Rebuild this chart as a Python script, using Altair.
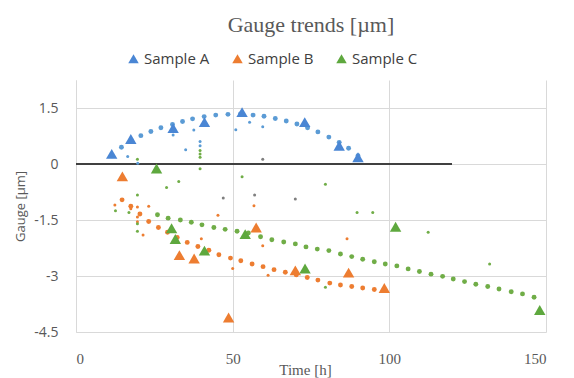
import altair as alt
import pandas as pd

# Triangles (main samples)
a_x = [11.4, 17.5, 31.0, 41.0, 53.0, 73.0, 84.0, 90.0]
a_y = [0.27, 0.67, 0.96, 1.12, 1.39, 1.12, 0.49, 0.18]
b_x = [14.8, 33.0, 37.7, 48.7, 57.5, 70.0, 87.0, 98.4]
b_y = [-0.33, -2.44, -2.53, -4.11, -1.70, -2.85, -2.91, -3.32]
c_x = [25.7, 30.5, 31.7, 41.0, 54.0, 73.1, 102.0, 148.0]
c_y = [-0.12, -1.72, -2.01, -2.32, -1.88, -2.80, -1.68, -3.91]

# Dotted trend lines
ta_x = [11.5, 14.5, 17.6, 20.7, 23.9, 27.1, 30.8, 34, 37.2, 40.9, 44.6, 48.5, 52.5, 56.5, 60, 63.6, 67.1, 70.5, 73.9, 77.2, 80.7, 84, 87, 90]
ta_y = [0.22, 0.45, 0.64, 0.76, 0.87, 0.97, 1.06, 1.14, 1.21, 1.27, 1.31, 1.33, 1.34, 1.31, 1.28, 1.22, 1.15, 1.07, 0.97, 0.86, 0.72, 0.58, 0.42, 0.22]
tb_x = [14.7, 17.5, 20.4, 23.2, 26.3, 29.2, 32.3, 35.5, 38.9, 42.4, 45.6, 49.3, 52.6, 56.2, 59.7, 63.2, 66.8, 70.3, 73.8, 77.2, 81, 84.4, 88, 91.5, 95.2, 98.4]
tb_y = [-0.96, -1.13, -1.34, -1.54, -1.70, -1.83, -1.97, -2.10, -2.21, -2.31, -2.43, -2.52, -2.59, -2.68, -2.75, -2.83, -2.90, -2.97, -3.04, -3.11, -3.19, -3.24, -3.28, -3.32, -3.36, -3.38]
tc_x = [26, 29.4, 33.3, 36.8, 40.2, 44, 47.6, 51.4, 55, 58.9, 62.5, 66.3, 70, 73.4, 77, 80.7, 84.4, 88, 91.5, 95.2, 98.7, 102.4, 106, 109.6, 113.3, 117, 120.4, 124, 127.6, 131.4, 135, 138.9, 142.5, 146.2]
tc_y = [-1.36, -1.45, -1.50, -1.56, -1.63, -1.70, -1.75, -1.80, -1.85, -1.95, -2.03, -2.09, -2.14, -2.22, -2.28, -2.32, -2.41, -2.48, -2.55, -2.62, -2.68, -2.73, -2.81, -2.88, -2.95, -3.01, -3.08, -3.15, -3.22, -3.28, -3.35, -3.42, -3.48, -3.57]

# Small scattered measurement dots
sa_x = [16.5, 19.7, 31, 35, 37.6, 51, 55.4, 59.6, 39.6, 39.6]
sa_y = [0.2, 0.02, 0.78, 0.38, 0.91, 0.92, 1.12, 1.0, 0.60, 0.49]
sc_x = [19.6, 39.6, 39.6, 39.6, 39.6, 32.8, 28.9, 53, 19.6, 12.6, 16.9, 19.6, 19.6, 79.6, 89.7, 94.7, 112.4, 132, 79.6]
sc_y = [0.13, 0.36, 0.27, 0.18, -0.13, -0.47, -0.63, -0.34, -0.83, -1.25, -1.30, -1.6, -1.8, -0.54, -1.30, -1.30, -1.83, -2.68, -3.3]
sb_x = [12.4, 17.5, 19.6, 23.2, 45.3, 56.8, 19.6, 21.4, 40, 59.6, 50, 61.3, 86.5, 19.6]
sb_y = [-1.1, -1.2, -1.15, -1.13, -1.37, -1.12, -1.55, -1.9, -2.0, -2.19, -2.8, -2.98, -2.0, -1.42]
sg_x = [59.6, 47, 57, 70]
sg_y = [0.13, -0.91, -0.83, -0.94]

zero_x = [0, 120]
zero_y = [0, 0]

series = ["Sample A", "Sample B", "Sample C"]
colors = ["#4a86d4", "#ed7d31", "#5ea83e"]
trend_colors = ["#5b9bd5", "#ed7d31", "#70ad47"]
small_colors = ["#5b9bd5", "#ed7d31", "#70ad47", "#7f7f7f"]

tri = pd.DataFrame({
    "x": a_x + b_x + c_x,
    "y": a_y + b_y + c_y,
    "s": [series[0]] * len(a_x) + [series[1]] * len(b_x) + [series[2]] * len(c_x),
})
trend = pd.DataFrame({
    "x": ta_x + tb_x + tc_x,
    "y": ta_y + tb_y + tc_y,
    "c": [trend_colors[0]] * len(ta_x) + [trend_colors[1]] * len(tb_x) + [trend_colors[2]] * len(tc_x),
})
small = pd.DataFrame({
    "x": sa_x + sb_x + sc_x + sg_x,
    "y": sa_y + sb_y + sc_y + sg_y,
    "c": [small_colors[0]] * len(sa_x) + [small_colors[1]] * len(sb_x)
         + [small_colors[2]] * len(sc_x) + [small_colors[3]] * len(sg_x),
})
zero = pd.DataFrame({"x": zero_x, "y": zero_y})

serif = "Liberation Serif"
sans = "Open Sans"
xs = alt.Scale(domain=[0, 150], nice=False)
ys = alt.Scale(domain=[-4.5, 2.25], nice=False)
xax = alt.Axis(values=[0, 50, 100, 150], title="Time [h]", labelFont=serif, labelFontSize=15,
               labelColor="#595959", titleFont=serif, titleFontSize=15, titleFontWeight="normal",
               titleColor="#595959", ticks=False, labelPadding=19, titlePadding=-4, titleX=229,
               grid=True, gridColor="#d9d9d9", domain=False)
yax = alt.Axis(values=[-4.5, -3, -1.5, 0, 1.5], title="Gauge [µm]", labelFont=sans, labelFontSize=14,
               labelColor="#595959", titleFont=sans, titleFontSize=13, titleFontWeight="normal",
               titleColor="#595959", ticks=False, labelPadding=18, titlePadding=6,
               grid=True, gridColor="#d9d9d9", domain=True, domainColor="#d9d9d9",
               labelExpr="datum.value + ''")

X = alt.X("x:Q", scale=xs, axis=xax)
Y = alt.Y("y:Q", scale=ys, axis=yax)

zero_layer = alt.Chart(zero).mark_line(color="#404040", strokeWidth=2).encode(x=X, y=Y)
small_layer = alt.Chart(small).mark_circle(size=9, opacity=1).encode(
    x=X, y=Y, color=alt.Color("c:N", scale=None))
trend_layer = alt.Chart(trend).mark_circle(size=24, opacity=1).encode(
    x=X, y=Y, color=alt.Color("c:N", scale=None))
tri_layer = alt.Chart(tri).mark_point(shape="triangle-up", filled=True, size=130, opacity=1).encode(
    x=X, y=Y,
    color=alt.Color("s:N", scale=alt.Scale(domain=series, range=colors),
                    legend=alt.Legend(title=None, orient="none", direction="horizontal",
                                      legendX=50, legendY=-29, symbolType="triangle-up",
                                      symbolSize=110, labelFont=sans, labelFontSize=15,
                                      labelColor="#404040", columnPadding=20, symbolOpacity=1,
                                      labelOffset=3)))

chart = alt.layer(zero_layer, small_layer, trend_layer, tri_layer).properties(
    width=470, height=252,
    title=alt.TitleParams("Gauge trends [µm]", font=serif, fontSize=22, fontWeight="normal",
                          color="#595959", anchor="middle", offset=14),
    autosize=alt.AutoSizeParams(type="none"),
    padding={"left": 76, "top": 80, "right": 28, "bottom": 46},
    background="white",
).configure_view(stroke=None)

chart.save("out.html", embed_options={"renderer": "svg", "actions": False})
